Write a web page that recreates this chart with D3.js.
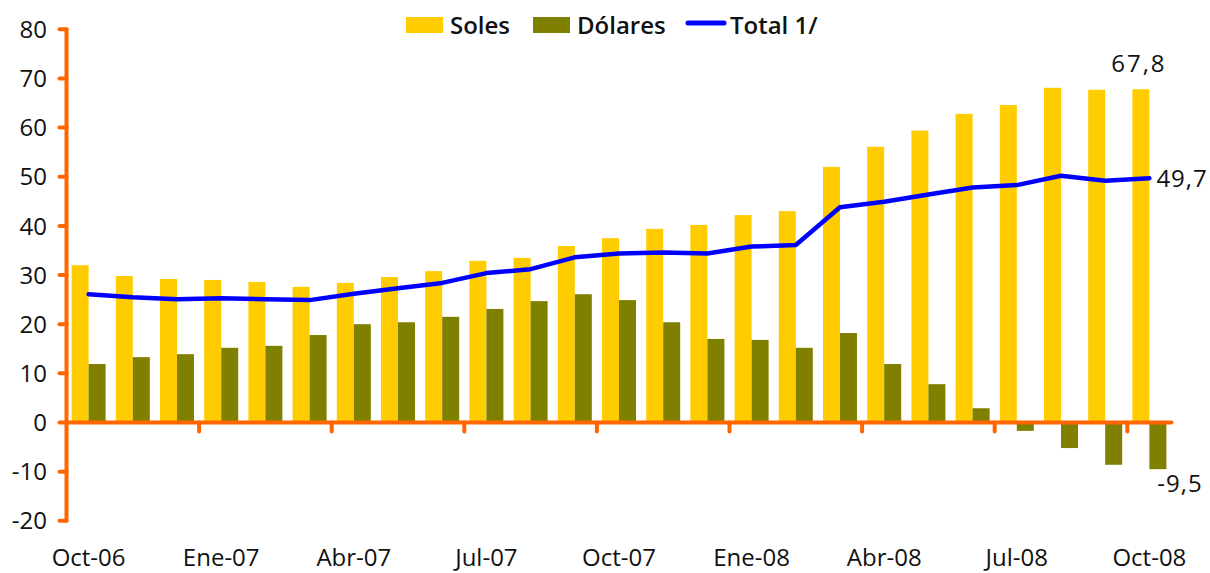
<!DOCTYPE html>
<html>
<head>
<meta charset="utf-8">
<script src="https://cdn.jsdelivr.net/npm/d3@7"></script>
<style>
  body { margin: 0; background: #fff; }
  svg text { font-family: "Open Sans", "Noto Sans", sans-serif; fill: #111; }
</style>
</head>
<body>
<svg id="chart" width="1210" height="573"></svg>
<script>
// months Oct-06 .. Oct-08
const months = ["Oct-06","Nov-06","Dic-06","Ene-07","Feb-07","Mar-07","Abr-07","May-07","Jun-07",
                "Jul-07","Ago-07","Sep-07","Oct-07","Nov-07","Dic-07","Ene-08","Feb-08","Mar-08",
                "Abr-08","May-08","Jun-08","Jul-08","Ago-08","Sep-08","Oct-08"];
const soles   = [32.0, 29.8, 29.2, 29.0, 28.6, 27.6, 28.4, 29.6, 30.8, 32.9, 33.5, 35.9, 37.5,
                 39.4, 40.2, 42.2, 43.0, 52.0, 56.1, 59.4, 62.8, 64.6, 68.1, 67.7, 67.8];
const dolares = [11.9, 13.3, 13.9, 15.2, 15.6, 17.8, 20.0, 20.4, 21.5, 23.1, 24.7, 26.1, 24.9,
                 20.4, 17.0, 16.8, 15.2, 18.2, 11.9, 7.8, 2.9, -1.7, -5.2, -8.6, -9.5];
const total   = [26.1, 25.5, 25.1, 25.3, 25.1, 24.9, 26.2, 27.3, 28.4, 30.4, 31.2, 33.6, 34.4,
                 34.6, 34.4, 35.8, 36.1, 43.8, 44.9, 46.4, 47.8, 48.3, 50.2, 49.2, 49.7];
const yTicks = [80, 70, 60, 50, 40, 30, 20, 10, 0, -10, -20];
const keys = ["Soles", "Dólares"];

const colors = { "Soles": "#FFCC00", "Dólares": "#808000", total: "#0000FF", axis: "#FF6600" };

const svg = d3.select("#chart");
const left = 66.5, right = 1171.5;

const x = d3.scaleBand().domain(months).range([left, right]).padding(0);
const xs = d3.scaleBand().domain(keys).range([0, x.bandwidth()]).paddingInner(0).paddingOuter(0.3);
const y = d3.scaleLinear().domain([-20, 80]).range([520.8, 29.3]);

const rows = months.map((m, i) => ({ m, "Soles": soles[i], "Dólares": dolares[i], total: total[i] }));

// bars
const groups = svg.append("g").selectAll("g")
  .data(rows)
  .join("g")
  .attr("transform", d => `translate(${x(d.m)},0)`);

groups.selectAll("rect")
  .data(d => keys.map(k => ({ k, v: d[k] })))
  .join("rect")
  .attr("x", d => xs(d.k))
  .attr("width", xs.bandwidth())
  .attr("y", d => y(Math.max(0, d.v)))
  .attr("height", d => Math.abs(y(d.v) - y(0)))
  .attr("fill", d => colors[d.k]);

// axes
const axisG = svg.append("g")
  .attr("stroke", colors.axis)
  .attr("stroke-width", 4)
  .attr("stroke-linecap", "round");

axisG.append("line")
  .attr("x1", left).attr("x2", right)
  .attr("y1", y(0)).attr("y2", y(0));

axisG.append("line")
  .attr("x1", left).attr("x2", left)
  .attr("y1", y(80)).attr("y2", y(-20));

axisG.selectAll(".ytick")
  .data(yTicks)
  .join("line")
  .attr("class", "ytick")
  .attr("x1", left - 7).attr("x2", left)
  .attr("y1", d => y(d)).attr("y2", d => y(d));

// x ticks every 3 months at the category boundaries
const xTickIdx = d3.range(3, months.length, 3);
axisG.selectAll(".xtick")
  .data(xTickIdx)
  .join("line")
  .attr("class", "xtick")
  .attr("x1", i => x(months[i])).attr("x2", i => x(months[i]))
  .attr("y1", y(0)).attr("y2", y(0) + 9);

// y labels
svg.append("g").selectAll("text")
  .data(yTicks)
  .join("text")
  .attr("x", 47)
  .attr("y", d => y(d))
  .attr("dy", "0.36em")
  .attr("text-anchor", "end")
  .attr("font-size", 24)
  .text(d => d);

// x labels
svg.append("g").selectAll("text")
  .data(d3.range(0, months.length, 3))
  .join("text")
  .attr("x", i => x(months[i]) + x.bandwidth() / 2)
  .attr("y", 566)
  .attr("text-anchor", "middle")
  .attr("font-size", 24)
  .text(i => months[i]);

// total line
const line = d3.line()
  .x(d => x(d.m) + x.bandwidth() / 2)
  .y(d => y(d.total));

svg.append("path")
  .datum(rows)
  .attr("fill", "none")
  .attr("stroke", colors.total)
  .attr("stroke-width", 4.5)
  .attr("stroke-linejoin", "round")
  .attr("stroke-linecap", "round")
  .attr("d", line);

// end labels
const last = rows[rows.length - 1];
const lastX = x(last.m);
const fmt = v => String(v).replace(".", ",");

svg.append("text")
  .attr("x", lastX + xs("Soles") + xs.bandwidth() / 2 - 2)
  .attr("y", y(last["Soles"]) - 17)
  .attr("text-anchor", "middle")
  .attr("font-size", 24)
  .attr("font-weight", 500)
  .attr("letter-spacing", 2)
  .text(fmt(last["Soles"]));

svg.append("text")
  .attr("x", lastX + x.bandwidth() / 2 + 7)
  .attr("y", y(last.total))
  .attr("dy", "0.36em")
  .attr("font-size", 24)
  .attr("font-weight", 500)
  .attr("letter-spacing", 1)
  .text(fmt(last.total));

svg.append("text")
  .attr("x", lastX + 30)
  .attr("y", y(last["Dólares"]) + 23)
  .attr("font-size", 24)
  .attr("font-weight", 500)
  .attr("letter-spacing", 1)
  .text(fmt(last["Dólares"]));

// legend
const legend = svg.append("g");
const legendItems = [
  { label: "Soles", type: "rect", color: colors["Soles"], x: 406 },
  { label: "Dólares", type: "rect", color: colors["Dólares"], x: 533 },
  { label: "Total 1/", type: "line", color: colors.total, x: 686 }
];
legendItems.forEach(it => {
  if (it.type === "rect") {
    legend.append("rect")
      .attr("x", it.x).attr("y", 17)
      .attr("width", 37).attr("height", 16)
      .attr("fill", it.color);
  } else {
    legend.append("line")
      .attr("x1", it.x + 2).attr("x2", it.x + 38)
      .attr("y1", 23).attr("y2", 23)
      .attr("stroke", it.color)
      .attr("stroke-width", 5)
      .attr("stroke-linecap", "round");
  }
  legend.append("text")
    .attr("x", it.x + 44)
    .attr("y", 25)
    .attr("dy", "0.36em")
    .attr("font-size", 24)
    .attr("font-weight", 600)
    .text(it.label);
});
</script>
</body>
</html>
